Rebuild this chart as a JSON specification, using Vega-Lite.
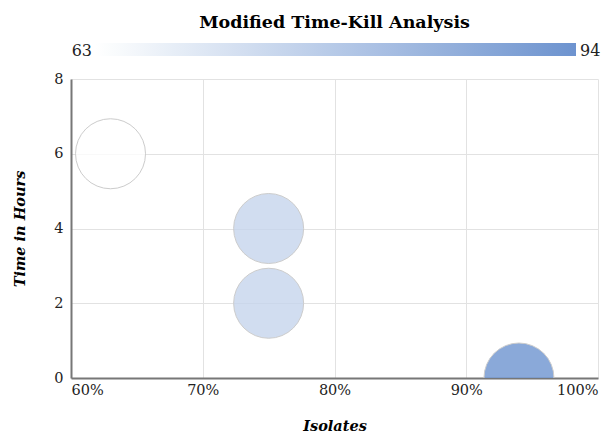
{
  "$schema": "https://vega.github.io/schema/vega-lite/v6.json",
  "autosize": {"type": "none"},
  "padding": {"left": 71, "top": 79, "right": 18, "bottom": 62},
  "width": 527,
  "height": 299,
  "background": "white",
  "title": {
    "text": "Modified Time-Kill Analysis",
    "font": "DejaVu Serif",
    "fontSize": 17.5,
    "fontWeight": "bold",
    "color": "#000000",
    "anchor": "middle",
    "offset": 12
  },
  "data": {
    "values": [
      {"isolates": 63, "hours": 6},
      {"isolates": 75, "hours": 4},
      {"isolates": 75, "hours": 2},
      {"isolates": 94, "hours": 0}
    ]
  },
  "config": {
    "view": {"stroke": null},
    "axis": {
      "labelFont": "DejaVu Serif",
      "labelFontSize": 14.5,
      "labelColor": "#222222",
      "titleFont": "DejaVu Serif",
      "titleFontSize": 14.5,
      "titleFontWeight": "bold",
      "titleFontStyle": "italic",
      "titleColor": "#000000",
      "gridColor": "#e2e2e2",
      "gridWidth": 1,
      "domainColor": "#777777",
      "domainWidth": 2,
      "ticks": false
    }
  },
  "mark": {
    "type": "circle",
    "fillOpacity": 0.8,
    "stroke": "#cccccc",
    "strokeWidth": 1,
    "strokeOpacity": 1,
    "clip": true
  },
  "encoding": {
    "x": {
      "field": "isolates",
      "type": "quantitative",
      "title": "Isolates",
      "scale": {"domain": [60, 100], "nice": false, "zero": false},
      "axis": {
        "values": [60, 70, 80, 90, 100],
        "labelExpr": "datum.value + '%'",
        "labelPadding": 5,
        "titlePadding": 23
      }
    },
    "y": {
      "field": "hours",
      "type": "quantitative",
      "title": "Time in Hours",
      "scale": {"domain": [0, 8], "nice": false},
      "axis": {
        "values": [0, 2, 4, 6, 8],
        "labelPadding": 8,
        "titlePadding": 26
      }
    },
    "size": {"value": 4900},
    "color": {
      "field": "isolates",
      "type": "quantitative",
      "scale": {"domain": [63, 94], "range": ["#ffffff", "#6d93cf"], "interpolate": "rgb"},
      "legend": {
        "orient": "none",
        "legendX": 25,
        "legendY": -36,
        "direction": "horizontal",
        "title": null,
        "values": [63, 94],
        "gradientLength": 480,
        "gradientThickness": 13,
        "gradientStrokeWidth": 0,
        "labelFont": "DejaVu Serif",
        "labelFontSize": 16,
        "labelColor": "#222222",
        "encode": {
          "labels": {
            "update": {
              "align": {"signal": "datum.perc > 0.5 ? 'left' : 'right'"},
              "baseline": {"value": "middle"},
              "y": {"value": 7.5},
              "dx": {"signal": "datum.perc > 0.5 ? 4 : -4"}
            }
          }
        }
      }
    }
  }
}
